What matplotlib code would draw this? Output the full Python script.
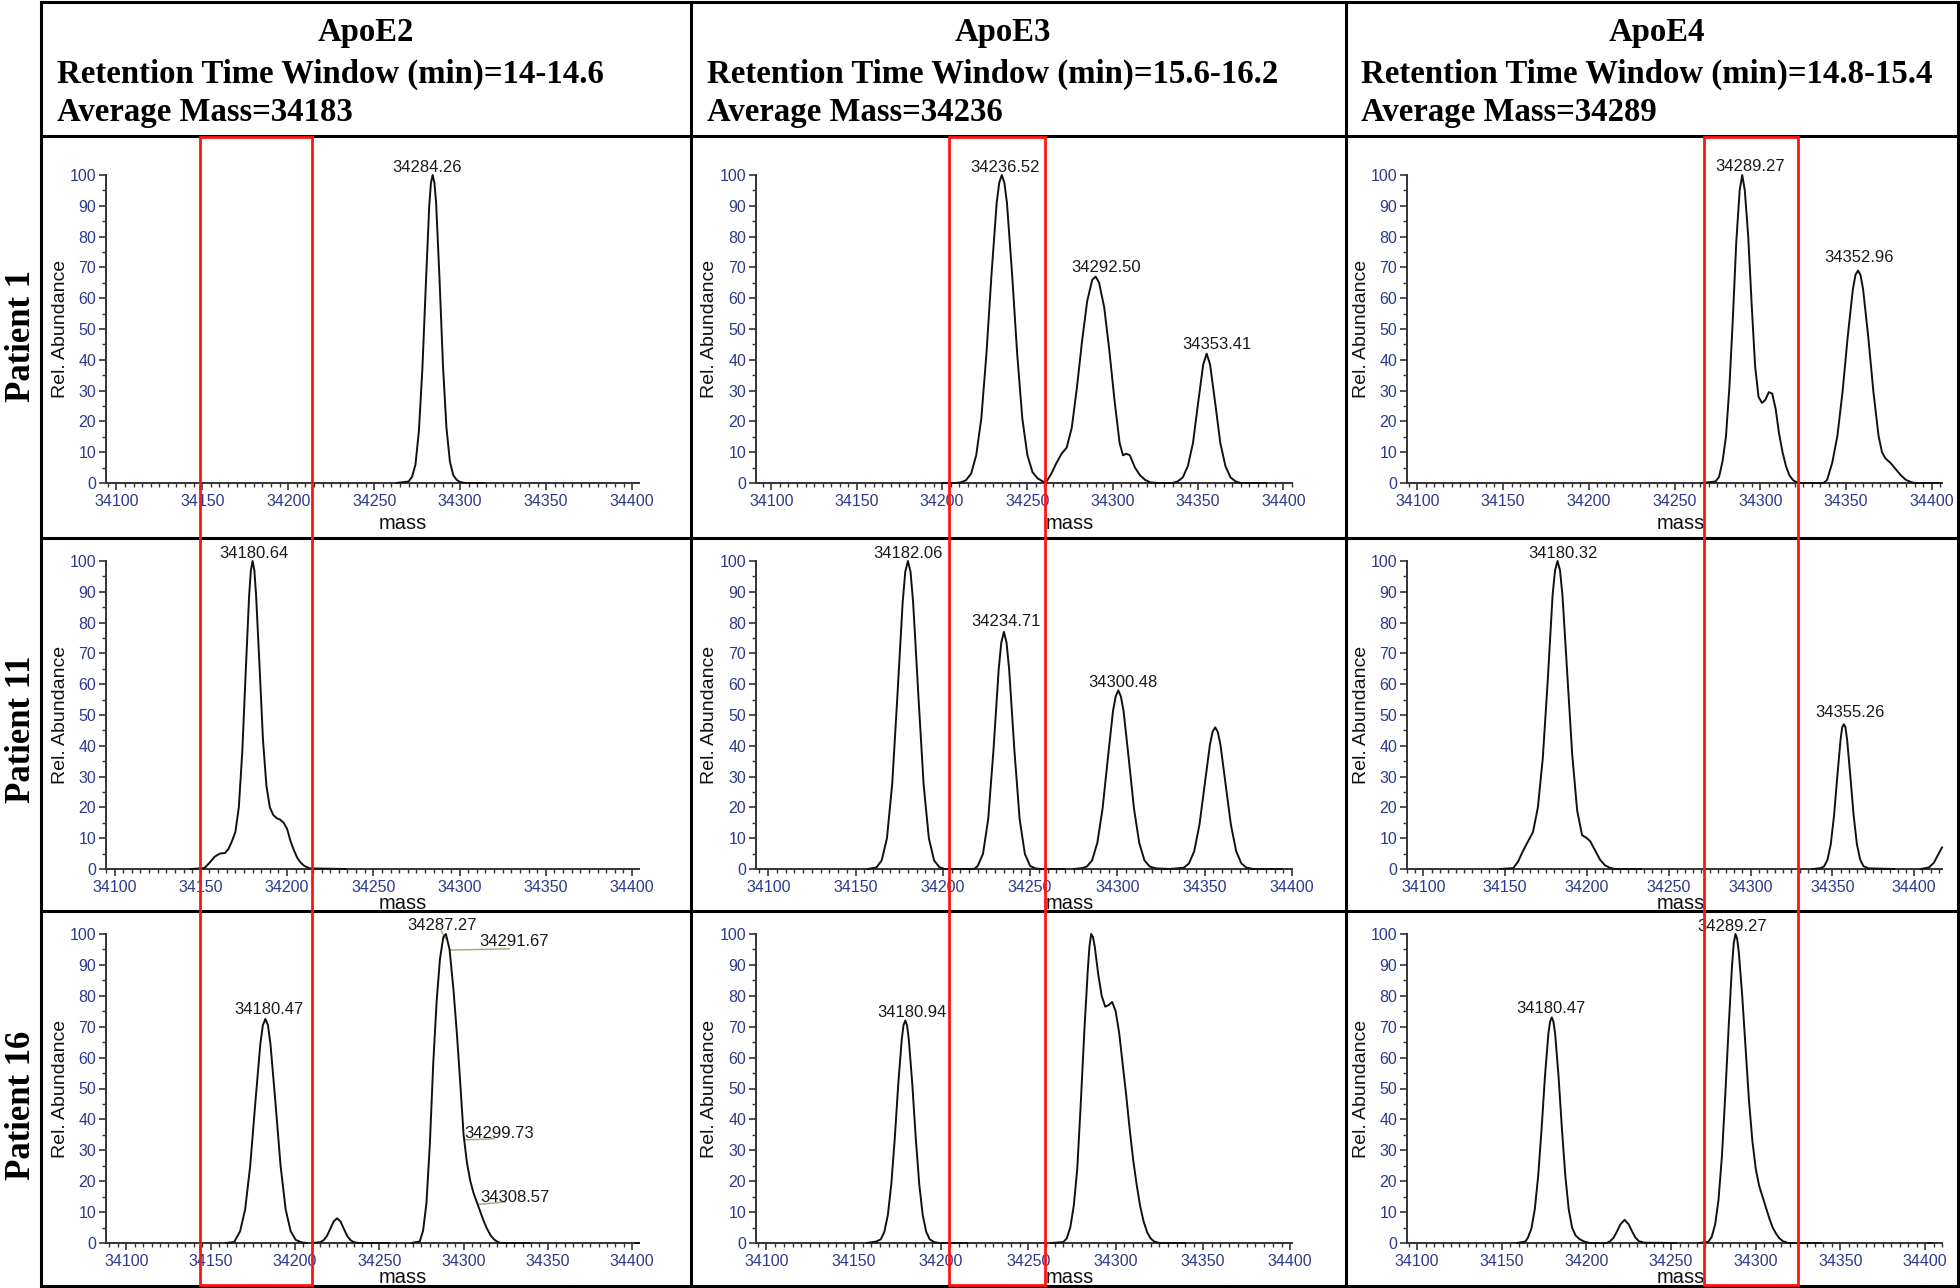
import numpy as np
import matplotlib.pyplot as plt
from matplotlib.lines import Line2D
from matplotlib.patches import Rectangle
from matplotlib.ticker import MultipleLocator
import matplotlib.transforms as mtransforms

nan = float('nan')

apoe = ['ApoE2', 'ApoE3', 'ApoE4']
rt_window = ['14-14.6', '15.6-16.2', '14.8-15.4']
avg_mass = [34183, 34236, 34289]
patients = ['Patient 1', 'Patient 11', 'Patient 16']

xticks = [34100, 34150, 34200, 34250, 34300, 34350, 34400]
yticks = [0, 10, 20, 30, 40, 50, 60, 70, 80, 90, 100]

# mass window boxed in red for each isoform column
red_window = [(34148.7, 34213.8), (34204.0, 34260.3), (34267.2, 34322.0)]

# deconvoluted spectra: (mass, rel. abundance); (nan, nan) splits segments
p1_e2 = [(34263, 0), (34270, 0.5), (34272, 2), (34274, 6), (34276, 17), (34278, 37),
         (34280, 64), (34282, 90), (34283, 97.5), (34284, 100), (34285, 97.5), (34286, 91),
         (34288, 66), (34290, 38), (34292, 18), (34294, 7), (34296, 2.5), (34298, 1),
         (34300, 0.3), (34303, 0), (34314, 0)]

p1_e3 = [(34200, 0), (34208, 0), (34211, 0.2), (34214, 0.9), (34217, 3), (34220, 9),
         (34223, 21), (34226, 42), (34229, 68), (34232, 91), (34233.5, 97.5), (34235, 100),
         (34236.5, 97.5), (34238, 91),
         (34241, 68), (34244, 42), (34247, 21), (34250, 9), (34253, 3.5), (34256, 1.5),
         (34259, 0.5), (34261, 0.3), (34264, 3), (34267, 6.5), (34270, 9.5), (34273, 11.5),
         (34276, 18), (34279, 31), (34282, 46), (34285, 59), (34288, 66), (34290, 67),
         (34292, 65), (34295, 57), (34298, 43), (34301, 27), (34304, 13), (34306, 9),
         (34308, 9.5), (34310, 9), (34313, 5), (34316, 2.5), (34319, 1), (34322, 0.2),
         (34326, 0), (34335, 0), (34338, 0.5), (34341, 1.8), (34344, 5.5), (34347, 13),
         (34350, 26), (34353, 38.5), (34355, 42), (34357, 38.5), (34360, 26), (34363, 13),
         (34366, 5.5), (34369, 1.8), (34372, 0.5), (34375, 0), (34390, 0)]

p1_e4 = [(34266, 0), (34274, 0.5), (34276, 2), (34278, 7), (34280, 15), (34282, 31),
         (34284, 53), (34286, 78), (34288, 95), (34289.5, 100), (34291, 95), (34293, 80),
         (34295, 58), (34297, 38), (34299, 28), (34301, 26), (34303, 27), (34305, 29.5),
         (34307, 29), (34309, 24), (34311, 16), (34313, 10), (34315, 5.5), (34317, 2.5),
         (34319, 1), (34321, 0.3), (34324, 0), (34337, 0), (34339, 1), (34342, 6.6),
         (34345, 15.3), (34348, 29.6), (34351, 47.4), (34354, 62.8), (34355.5, 67.5),
         (34357, 69), (34358.5, 67.5),
         (34360, 62.8), (34363, 47.4), (34366, 29.6), (34369, 15.3), (34371, 10),
         (34373, 8), (34376, 6.5), (34379, 4.5), (34382, 2.5), (34385, 1), (34388, 0.3),
         (34390, 0), (34405, 0)]

p11_e2 = [(34144, 0), (34152, 0.3), (34155, 2), (34158, 4), (34161, 5), (34164, 5.2),
          (34166, 6.5), (34168, 9), (34170, 12), (34172, 20), (34174, 38), (34176, 64),
          (34178, 89), (34179, 97), (34180, 100), (34181, 97), (34182, 89), (34184, 66),
          (34186, 42), (34188, 27),
          (34190, 20), (34192, 17.5), (34194, 16.5), (34196, 16), (34198, 15), (34200, 13),
          (34202, 9), (34204, 6), (34206, 3.5), (34208, 2), (34210, 1), (34213, 0.2), (34234, 0)]

p11_e3 = [(34157, 0), (34162, 0.5), (34165, 2.8), (34168, 10), (34171, 27.5), (34174, 56.3),
          (34177, 86.6), (34178.5, 96.5), (34180, 100), (34181.5, 96.5), (34183, 86.6),
          (34186, 56.3), (34189, 27.5),
          (34192, 10), (34195, 2.8), (34198, 0.6), (34201, 0), (34218, 0), (34220, 1),
          (34223, 4.9), (34226, 16.2), (34229, 38.5), (34232, 64.8), (34233.5, 73.5),
          (34235, 77), (34236.5, 73.5),
          (34238, 64.8), (34241, 38.5), (34244, 16.2), (34247, 4.9), (34250, 1),
          (34253, 0.2), (34256, 0), (34270, 0), (nan, nan),
          (34275, 0), (34280, 0.3), (34282.5, 0.8), (34285.5, 2.8), (34288.5, 8.5),
          (34291.5, 19.6), (34294.5, 35.8), (34297.5, 51.4), (34299, 56), (34300.5, 58),
          (34302, 56), (34303.5, 51.4),
          (34306.5, 35.8), (34309.5, 19.6), (34312.5, 8.5), (34315.5, 2.8), (34318.5, 0.8),
          (34322, 0.2), (34330, 0), (34338, 0.4), (34341, 1.8), (34344, 5.8), (34347, 14.4),
          (34350, 27.4), (34353, 40.4), (34354.5, 44.5), (34356, 46), (34357.5, 44.5),
          (34359, 40.4), (34362, 27.4),
          (34365, 14.4), (34368, 5.8), (34371, 1.8), (34374, 0.4), (34378, 0), (34394, 0)]

p11_e4 = [(34147, 0), (34155, 0.3), (34158, 2.5), (34161, 6), (34164, 9), (34167, 12),
          (34170, 20), (34173, 36), (34176, 61), (34179, 89), (34180.5, 97), (34182, 100),
          (34183.5, 97), (34185, 89),
          (34188, 63), (34191, 37), (34194, 19), (34197, 11), (34200, 10), (34202, 9),
          (34205, 6), (34208, 3), (34211, 1.2), (34214, 0.4), (34217, 0), (34233, 0), (nan, nan),
          (34338, 0), (34343, 0.3), (34345, 0.9), (34347, 3), (34349, 8), (34351, 17.3),
          (34353, 30), (34355, 42), (34356, 46), (34357, 47), (34358, 46), (34359, 42),
          (34361, 30), (34363, 17.3),
          (34365, 8), (34367, 3), (34369, 0.9), (34372, 0.2), (34388, 0), (nan, nan),
          (34404, 0), (34409, 0.5), (34412, 2), (34415, 5), (34417, 7)]

p16_e2 = [(34159, 0), (34164, 0.3), (34167.5, 3.8), (34170.5, 10.9), (34173.5, 25),
          (34176.5, 45.2), (34179.5, 64.4), (34181, 70.5), (34182.5, 72.5), (34184, 70.5),
          (34185.5, 64.4), (34188.5, 45.2),
          (34191.5, 25), (34194.5, 10.9), (34197.5, 3.8), (34200.5, 1), (34204, 0.2), (34207, 0),
          (nan, nan),
          (34210, 0), (34215, 0.25), (34217, 0.9), (34219, 2.3), (34221, 4.6), (34223, 7),
          (34225, 8), (34227, 7), (34229, 4.6), (34231, 2.3), (34233, 0.9), (34235, 0.25),
          (34238, 0), (34256, 0), (nan, nan),
          (34269, 0), (34274, 0.5), (34276, 4), (34278, 13), (34280, 32), (34282, 58),
          (34284, 78), (34286, 92), (34288, 99), (34289.5, 100), (34291.7, 95), (34294, 82),
          (34296, 68), (34298, 52), (34300, 35), (34302, 26), (34304, 20), (34306, 16),
          (34308, 13), (34310, 10), (34312, 7), (34314, 4.5), (34316, 2.5), (34318, 1.2),
          (34320, 0.4), (34322, 0), (34339, 0), (nan, nan), (34402, 0), (34404, 0)]

p16_e3 = [(34157.6, 0), (34163, 0.5), (34165.5, 1.2), (34167.5, 3.6), (34169.5, 9),
          (34171.5, 19), (34173.5, 34), (34175.5, 51.6), (34177.5, 66), (34178.5, 70.5),
          (34179.5, 72), (34180.5, 70.5),
          (34181.5, 66), (34183.5, 51.6), (34185.5, 34), (34187.5, 19), (34189.5, 9),
          (34191.5, 3.6), (34193.5, 1.2), (34196, 0.3), (34199, 0), (34215, 0), (nan, nan),
          (34263, 0), (34270, 0.3), (34272, 1.5), (34274, 5), (34276, 12), (34278, 24),
          (34280, 45), (34282, 68), (34284, 88), (34285, 96), (34286, 100), (34287, 99),
          (34288, 96), (34290, 87),
          (34292, 80), (34294, 76.5), (34296, 77), (34298, 78), (34300, 75), (34302, 68),
          (34304, 58), (34306, 48), (34308, 37), (34310, 27), (34312, 19), (34314, 12),
          (34316, 7), (34318, 3.5), (34320, 1.5), (34322, 0.5), (34325, 0), (34340, 0)]

p16_e4 = [(34159, 0), (34164, 0.5), (34165.5, 1.8), (34167.5, 4.7), (34169.5, 11),
          (34171.5, 21.8), (34173.5, 37), (34175.5, 54), (34177.5, 67.7), (34178.5, 71.6),
          (34179.5, 73), (34180.5, 71.6),
          (34181.5, 67.7), (34183.5, 54), (34185.5, 37), (34187.5, 21.8), (34189.5, 11),
          (34191.5, 5), (34193.5, 2.5), (34196, 1.2), (34199, 0.4), (34202, 0), (34212, 0),
          (34214, 0.6), (34216, 1.7), (34218, 3.7), (34220, 6), (34222.5, 7.5), (34225, 6),
          (34227, 3.7), (34229, 1.7), (34231, 0.6), (34234, 0.1), (34253, 0), (nan, nan),
          (34266.7, 0), (34272, 0.4), (34274, 2), (34276, 6), (34278, 14), (34280, 28),
          (34282, 48), (34284, 70), (34286, 90), (34287, 97), (34288, 100), (34289, 98.5),
          (34290, 94), (34292, 80),
          (34294, 63), (34296, 46), (34298, 33), (34300, 24), (34302, 18.5), (34304, 15),
          (34306, 11.5), (34308, 8), (34310, 5), (34312, 3), (34314, 1.5), (34316, 0.6),
          (34319, 0), (34338.6, 0), (nan, nan), (34402, 0), (34404, 0)]

# peak labels: (text, mass, abundance at text baseline)
p1_e2_lab = [('34284.26', 34280.5, 101)]
p1_e3_lab = [('34236.52', 34236.8, 101), ('34292.50', 34296.3, 68.5), ('34353.41', 34361.3, 43.5)]
p1_e4_lab = [('34289.27', 34294.2, 101.4), ('34352.96', 34357.5, 71.6)]
p11_e2_lab = [('34180.64', 34180.5, 100.9)]
p11_e3_lab = [('34182.06', 34180.0, 101), ('34234.71', 34236.0, 79), ('34300.48', 34303.4, 59)]
p11_e4_lab = [('34180.32', 34185.6, 100.9), ('34355.26', 34360.6, 49.2)]
p16_e2_lab = [('34180.47', 34184.6, 74.1), ('34287.27', 34287.0, 101.2)]
p16_e3_lab = [('34180.94', 34183.1, 73)]
p16_e4_lab = [('34180.47', 34179.0, 74.4), ('34289.27', 34286.2, 101)]

# labels with leader lines: (text, text mass, text abund, line start mass, abund, line end mass, abund)
p16_e2_lead = [('34291.67', 34330.1, 96.0, 34291.7, 94.8, 34327.0, 95.2),
               ('34299.73', 34321.0, 34.0, 34300.9, 33.4, 34318.0, 33.7),
               ('34308.57', 34330.6, 13.2, 34308.8, 12.5, 34324.7, 13.3),
               ('', 0, 0, 34289.3, 98.5, 34286.8, 101.0)]

spectra = [[p1_e2, p1_e3, p1_e4], [p11_e2, p11_e3, p11_e4], [p16_e2, p16_e3, p16_e4]]
labels = [[p1_e2_lab, p1_e3_lab, p1_e4_lab], [p11_e2_lab, p11_e3_lab, p11_e4_lab],
          [p16_e2_lab, p16_e3_lab, p16_e4_lab]]
leaders = {(2, 0): p16_e2_lead}

# ---- layout (pixels of the 1960 x 1288 canvas) ----
W, H = 1960, 1288
col_border = [41, 691, 1346, 1958]
row_border = [2, 136, 538, 911, 1286]
ax_left = [106, 756, 1407]
ax_width = [533, 536, 535]
ax_top = [175, 561, 934]
ax_bot = [483, 869, 1243]
xlims = [[(34094, 34404), (34091, 34405), (34094, 34406)],
         [(34095, 34404), (34093, 34400), (34090, 34417)],
         [(34088, 34404), (34094, 34401), (34094, 34410)]]
mass_pos = [0.557, 0.585, 0.512]
mass_y = [-0.1, -0.08, -0.08]

navy = '#2d3a8c'
sans = ['Liberation Sans', 'DejaVu Sans']
serif = ['Liberation Serif', 'DejaVu Serif']


def fx(px):
    return px / W


def fy(py):
    return 1 - py / H


fig = plt.figure(figsize=(W / 100, H / 100), dpi=100)
fig.patch.set_facecolor('white')

axes = {}
for r in range(3):
    for c in range(3):
        ax = fig.add_axes([fx(ax_left[c]), fy(ax_bot[r]), fx(ax_width[c]),
                           (ax_bot[r] - ax_top[r]) / H])
        axes[(r, c)] = ax
        arr = np.array(spectra[r][c], dtype=float)
        ax.plot(arr[:, 0], arr[:, 1], color='#111111', lw=1.4, clip_on=False,
                solid_joinstyle='round', zorder=3)
        for txt, mx, my in labels[r][c]:
            ax.text(mx, my, txt, ha='center', va='baseline', fontsize=12,
                    family=sans, color='#1a1a1a', clip_on=False)
        for txt, tx, ty, x0, y0, x1, y1 in leaders.get((r, c), []):
            ax.plot([x0, x1], [y0, y1], color='#9fb276', lw=1.1, clip_on=False, zorder=2)
            if txt:
                ax.text(tx, ty, txt, ha='center', va='baseline', fontsize=12,
                        family=sans, color='#1a1a1a', clip_on=False)

        ax.set_xlim(*xlims[r][c])
        ax.set_ylim(0, 100)
        ax.set_xticks(xticks)
        ax.set_xticklabels([str(t) for t in xticks], family=sans)
        ax.set_yticks(yticks)
        ax.set_yticklabels([str(t) for t in yticks], family=sans)
        ax.xaxis.set_minor_locator(MultipleLocator(5))
        ax.yaxis.set_minor_locator(MultipleLocator(5))
        ax.tick_params(which='major', direction='out', length=5, width=1.2,
                       color='#333333', labelcolor=navy, labelsize=11.5)
        ax.tick_params(which='minor', direction='out', length=3, width=1.0, color='#333333')
        ax.tick_params(axis='x', which='major', pad=3)
        ax.tick_params(axis='y', which='major', pad=2)
        for s in ['top', 'right']:
            ax.spines[s].set_visible(False)
        for s in ['left', 'bottom']:
            ax.spines[s].set_linewidth(1.4)
            ax.spines[s].set_color('#333333')
        ax.patch.set_alpha(0)
        ax.set_ylabel('Rel. Abundance', fontsize=14, family=sans, color='#111111')
        ax.yaxis.set_label_coords(-0.07, 0.5)
        ax.set_xlabel('mass', fontsize=14.5, family=sans, color='#111111')
        ax.xaxis.set_label_coords(mass_pos[c], mass_y[r])

# table grid
for x in col_border:
    fig.add_artist(Line2D([fx(x), fx(x)], [fy(row_border[0]), fy(row_border[-1])],
                          transform=fig.transFigure, color='black', lw=2.2, zorder=5))
for y in row_border:
    fig.add_artist(Line2D([fx(col_border[0]), fx(col_border[-1])], [fy(y), fy(y)],
                          transform=fig.transFigure, color='black', lw=2.2, zorder=5))

# column headers
head_center = [366, 1003, 1657]
head_left = [57, 707, 1361]
for c in range(3):
    fig.text(fx(head_center[c]), fy(41), apoe[c], ha='center', va='baseline',
             fontsize=23.6, fontweight='bold', family=serif)
    fig.text(fx(head_left[c]), fy(83), 'Retention Time Window (min)=' + rt_window[c],
             ha='left', va='baseline', fontsize=23.6, fontweight='bold', family=serif)
    fig.text(fx(head_left[c]), fy(121), 'Average Mass=' + str(avg_mass[c]),
             ha='left', va='baseline', fontsize=23.6, fontweight='bold', family=serif)

# patient labels
pat_y = [336, 729, 1105]
for r in range(3):
    fig.text(fx(21), fy(pat_y[r]), patients[r], rotation=90, ha='center', va='center',
             fontsize=25, fontweight='bold', family=serif)

# red mass windows spanning the three patients
for c in range(3):
    tr = mtransforms.blended_transform_factory(axes[(0, c)].transData, fig.transFigure)
    lo, hi = red_window[c]
    fig.add_artist(Rectangle((lo, fy(1285)), hi - lo, fy(137) - fy(1285), transform=tr,
                             fill=False, edgecolor='#ff1414', lw=2.0, zorder=6))

fig.savefig('out.png', dpi=100, facecolor='white')
